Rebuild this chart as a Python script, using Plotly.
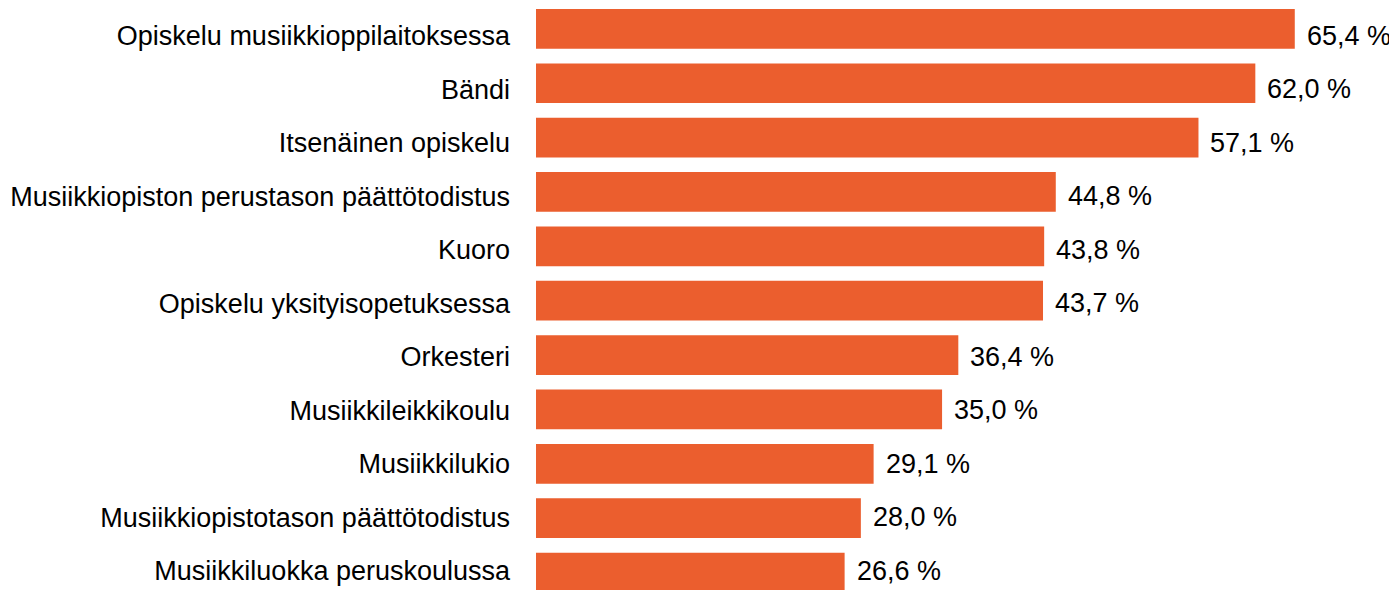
import plotly.graph_objects as go

categories = [
    "Opiskelu musiikkioppilaitoksessa",
    "Bändi",
    "Itsenäinen opiskelu",
    "Musiikkiopiston perustason päättötodistus",
    "Kuoro",
    "Opiskelu yksityisopetuksessa",
    "Orkesteri",
    "Musiikkileikkikoulu",
    "Musiikkilukio",
    "Musiikkiopistotason päättötodistus",
    "Musiikkiluokka peruskoulussa",
]
values = [65.4, 62.0, 57.1, 44.8, 43.8, 43.7, 36.4, 35.0, 29.1, 28.0, 26.6]
value_labels = [f"{v:.1f}".replace(".", ",") + " %" for v in values]

FONT = "Liberation Sans, Arial, sans-serif"

fig = go.Figure()
fig.add_trace(
    go.Bar(
        y=categories,
        x=values,
        orientation="h",
        marker=dict(color="#EB5E2E", line=dict(width=0)),
        hoverinfo="skip",
    )
)
# invisible trace carrying the text grid (labels sit on a slightly tighter row pitch)
fig.add_trace(
    go.Scatter(
        x=[0] * len(categories),
        y=categories,
        yaxis="y2",
        mode="markers",
        marker=dict(opacity=0, size=1),
        hoverinfo="skip",
        showlegend=False,
    )
)

for cat, v, lab in zip(categories, values, value_labels):
    fig.add_annotation(
        x=v, y=cat, xref="x", yref="y2",
        text=lab, showarrow=False,
        xanchor="left", yanchor="middle", xshift=10,
        font=dict(family=FONT, size=27, color="#000000"),
    )

fig.update_layout(
    width=1397,
    height=590,
    margin=dict(l=528, r=0, t=0, b=0),
    paper_bgcolor="white",
    plot_bgcolor="white",
    bargap=0.27,
    showlegend=False,
    font=dict(family=FONT, size=27, color="#000000"),
    xaxis=dict(visible=False, range=[0, 74.9]),
    yaxis=dict(
        type="category",
        range=[10.468, -0.3835],
        showgrid=False,
        zeroline=False,
        showline=False,
        ticks="",
        showticklabels=False,
        automargin=False,
    ),
    yaxis2=dict(
        type="category",
        overlaying="y",
        side="left",
        range=[10.512, -0.5159],
        showgrid=False,
        zeroline=False,
        showline=False,
        ticks="",
        automargin=False,
        ticklabelstandoff=25,
        tickfont=dict(family=FONT, size=27, color="#000000"),
    ),
)

fig.write_html("out.html")
